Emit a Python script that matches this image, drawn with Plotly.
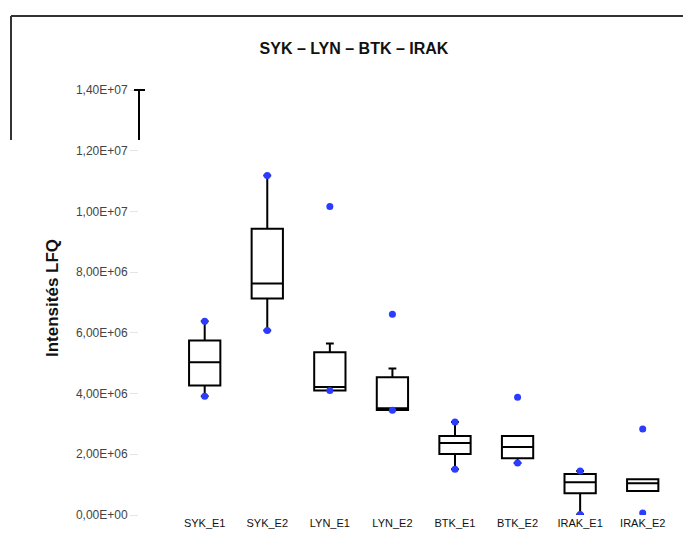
import plotly.graph_objects as go

# ---- data ----
categories = ["SYK_E1", "SYK_E2", "LYN_E1", "LYN_E2", "BTK_E1", "BTK_E2", "IRAK_E1", "IRAK_E2"]
q1 = [4.27e6, 7.13e6, 4.10e6, 3.46e6, 2.01e6, 1.87e6, 0.72e6, 0.79e6]
median = [5.03e6, 7.63e6, 4.22e6, 3.52e6, 2.37e6, 2.24e6, 1.08e6, 1.05e6]
q3 = [5.75e6, 9.43e6, 5.36e6, 4.54e6, 2.60e6, 2.60e6, 1.35e6, 1.18e6]
lower = [3.91e6, 6.08e6, 4.10e6, 3.45e6, 1.51e6, 1.71e6, 0.02e6, 0.79e6]
upper = [6.38e6, 11.18e6, 5.65e6, 4.83e6, 3.06e6, 2.60e6, 1.45e6, 1.18e6]

dot_cats = ["SYK_E1", "SYK_E1", "SYK_E2", "SYK_E2", "LYN_E1", "LYN_E1", "LYN_E2", "LYN_E2",
            "BTK_E1", "BTK_E1", "BTK_E2", "BTK_E2", "IRAK_E1", "IRAK_E1", "IRAK_E2", "IRAK_E2"]
dot_vals = [6.38e6, 3.91e6, 11.18e6, 6.08e6, 10.16e6, 4.10e6, 6.61e6, 3.45e6,
            3.06e6, 1.51e6, 3.88e6, 1.71e6, 1.45e6, 0.02e6, 2.83e6, 0.07e6]

y_tickvals = [0, 2e6, 4e6, 6e6, 8e6, 1e7, 1.2e7, 1.4e7]
y_ticktext = ["0,00E+00", "2,00E+06", "4,00E+06", "6,00E+06", "8,00E+06",
              "1,00E+07", "1,20E+07", "1,40E+07"]

title_text = "SYK – LYN – BTK – IRAK"
y_title = "Intensités LFQ"

# ---- figure ----
W, H = 691, 535
OFF = 8  # page offset of the plot div in the browser
# target plot area in screen pixels: x 139..674, y 90..515
SL, SR, ST, SB = 139, 674, 90, 515
L, T = SL - OFF, ST - OFF
R, B = W - (SR - OFF), H - (SB - OFF)
pw, ph = W - L - R, H - T - B

def px_x(sx):
    return (sx - OFF - L) / pw

def px_y(sy):
    return (H - B - (sy - OFF)) / ph

fig = go.Figure()
fig.add_trace(go.Box(
    x=categories, q1=q1, median=median, q3=q3,
    lowerfence=lower, upperfence=upper,
    fillcolor="white", line=dict(color="black", width=2),
    width=0.5, whiskerwidth=0.25, boxpoints=False, showlegend=False,
))
fig.add_trace(go.Scatter(
    x=dot_cats, y=dot_vals, mode="markers",
    marker=dict(color="#2b3bff", size=7), showlegend=False,
))

shapes = [
    # outer frame (top and left edge)
    dict(type="line", xref="paper", yref="paper", x0=px_x(11), x1=px_x(700),
         y0=px_y(16), y1=px_y(16), line=dict(color="#333", width=2)),
    dict(type="line", xref="paper", yref="paper", x0=px_x(11), x1=px_x(11),
         y0=px_y(16), y1=px_y(140), line=dict(color="#333", width=2)),
    # partial y axis line with top tick
    dict(type="line", xref="paper", yref="paper", x0=0, x1=0,
         y0=1, y1=px_y(140), line=dict(color="black", width=2)),
    dict(type="line", xref="paper", yref="paper", x0=px_x(134), x1=px_x(145),
         y0=1, y1=1, line=dict(color="black", width=2)),
]

fig.update_layout(
    width=W, height=H,
    margin=dict(l=L, r=R, t=T, b=B, autoexpand=False),
    paper_bgcolor="white", plot_bgcolor="white",
    font=dict(family="Liberation Sans, Arial, sans-serif", color="#222"),
    title=dict(text="<b>" + title_text + "</b>", x=(354 - OFF) / W, xanchor="center",
               y=1 - (48 - OFF) / H, yanchor="middle", font=dict(size=16, color="#111")),
    shapes=shapes,
    annotations=[dict(text="<b>" + y_title + "</b>", xref="paper", yref="paper",
                      x=px_x(52), y=px_y(298), showarrow=False, textangle=-90,
                      xanchor="center", yanchor="middle",
                      font=dict(size=17, color="#111"))],
    xaxis=dict(type="category", range=[-1.05, 7.5], showgrid=False, showline=False,
               zeroline=False, ticks="", tickfont=dict(size=11, color="#111"),
               automargin=False),
    yaxis=dict(range=[0, 1.4e7], tickvals=y_tickvals, ticktext=y_ticktext,
               showgrid=False, showline=False, zeroline=False, ticks="outside",
               ticklen=8, tickcolor="#e6e6e6", tickfont=dict(size=12, color="#444"),
               automargin=False),
)

fig.write_html("out.html")
